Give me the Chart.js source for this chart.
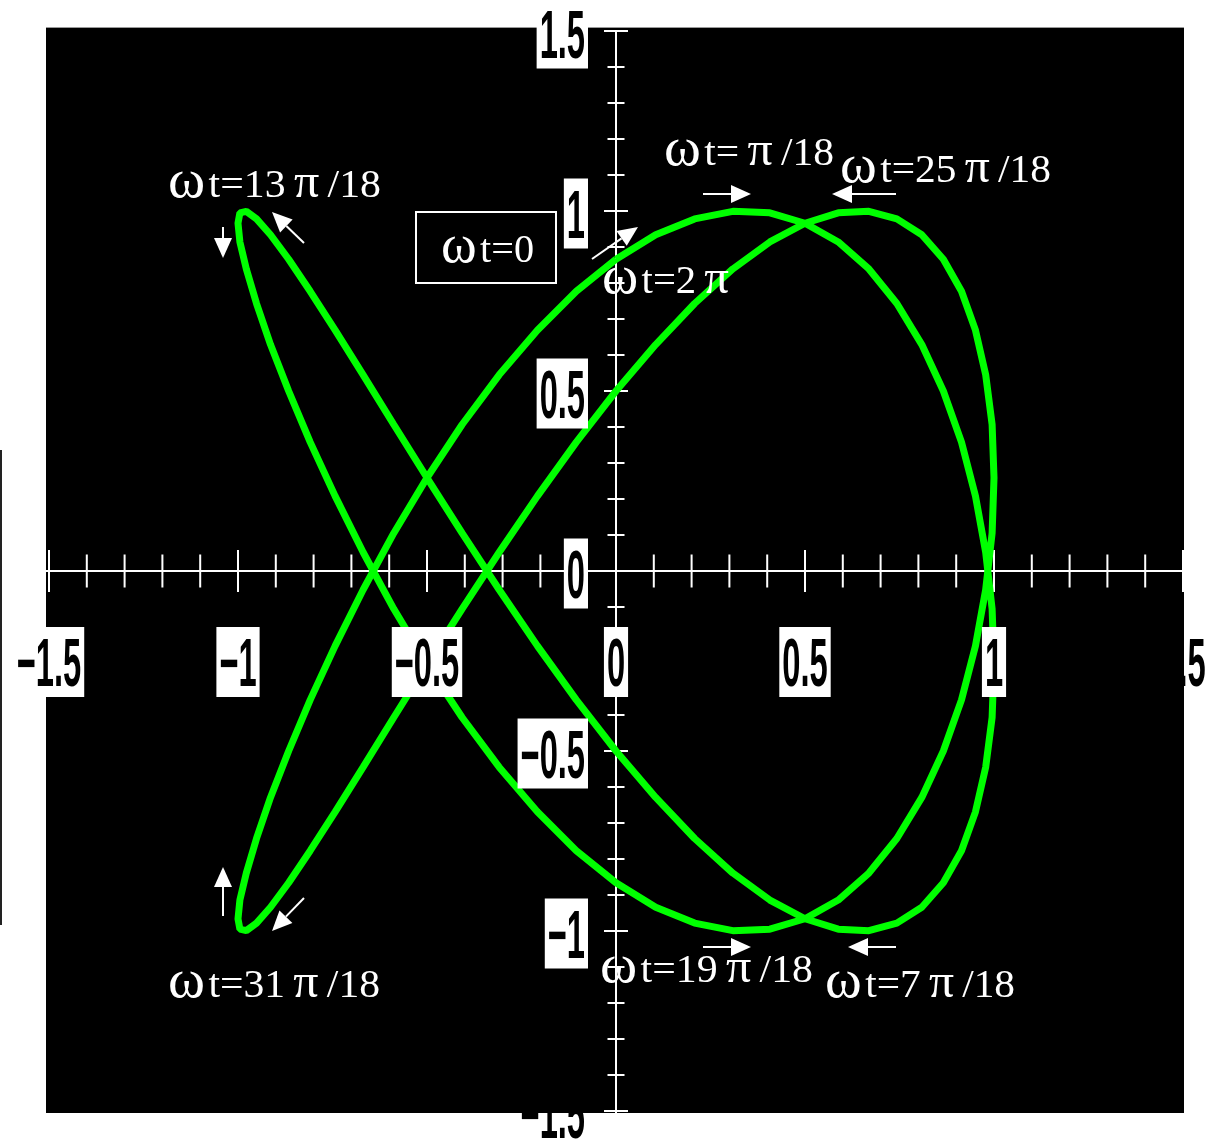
<!DOCTYPE html>
<html>
<head>
<meta charset="utf-8">
<script src="https://cdn.jsdelivr.net/npm/chart.js@4.4.1/dist/chart.umd.min.js"></script>
<style>
  html, body { margin: 0; padding: 0; background: #fff; overflow: hidden; }
  canvas { display: block; }
</style>
</head>
<body>
<canvas id="c" width="1221" height="1143"></canvas>
<script>
// Lissajous trace, one point every 3° of ωt from 0 to 2π
const curveX = [
  0, 0.105, 0.208, 0.309, 0.407, 0.5, 0.588, 0.669, 0.743, 0.809,
  0.866, 0.914, 0.951, 0.978, 0.995, 1, 0.995, 0.978, 0.951, 0.914,
  0.866, 0.809, 0.743, 0.669, 0.588, 0.5, 0.407, 0.309, 0.208, 0.105,
  0, -0.105, -0.208, -0.309, -0.407, -0.5, -0.588, -0.669, -0.743, -0.809,
  -0.866, -0.914, -0.951, -0.978, -0.995, -1, -0.995, -0.978, -0.951, -0.914,
  -0.866, -0.809, -0.743, -0.669, -0.588, -0.5, -0.407, -0.309, -0.208, -0.105,
  0, 0.105, 0.208, 0.309, 0.407, 0.5, 0.588, 0.669, 0.743, 0.809,
  0.866, 0.914, 0.951, 0.978, 0.995, 1, 0.995, 0.978, 0.951, 0.914,
  0.866, 0.809, 0.743, 0.669, 0.588, 0.5, 0.407, 0.309, 0.208, 0.105,
  0, -0.105, -0.208, -0.309, -0.407, -0.5, -0.588, -0.669, -0.743, -0.809,
  -0.866, -0.914, -0.951, -0.978, -0.995, -1, -0.995, -0.978, -0.951, -0.914,
  -0.866, -0.809, -0.743, -0.669, -0.588, -0.5, -0.407, -0.309, -0.208, -0.105,
  0
];
const curveY = [
  0.866, 0.934, 0.978, 0.999, 0.995, 0.966, 0.914, 0.839, 0.743, 0.629,
  0.5, 0.358, 0.208, 0.052, -0.105, -0.259, -0.407, -0.545, -0.669, -0.777,
  -0.866, -0.934, -0.978, -0.999, -0.995, -0.966, -0.914, -0.839, -0.743, -0.629,
  -0.5, -0.358, -0.208, -0.052, 0.105, 0.259, 0.407, 0.545, 0.669, 0.777,
  0.866, 0.934, 0.978, 0.999, 0.995, 0.966, 0.914, 0.839, 0.743, 0.629,
  0.5, 0.358, 0.208, 0.052, -0.105, -0.259, -0.407, -0.545, -0.669, -0.777,
  -0.866, -0.934, -0.978, -0.999, -0.995, -0.966, -0.914, -0.839, -0.743, -0.629,
  -0.5, -0.358, -0.208, -0.052, 0.105, 0.259, 0.407, 0.545, 0.669, 0.777,
  0.866, 0.934, 0.978, 0.999, 0.995, 0.966, 0.914, 0.839, 0.743, 0.629,
  0.5, 0.358, 0.208, 0.052, -0.105, -0.259, -0.407, -0.545, -0.669, -0.777,
  -0.866, -0.934, -0.978, -0.999, -0.995, -0.966, -0.914, -0.839, -0.743, -0.629,
  -0.5, -0.358, -0.208, -0.052, 0.105, 0.259, 0.407, 0.545, 0.669, 0.777,
  0.866
];

// Axis tick labels
const xTickValues = [-1.5, -1, -0.5, 0, 0.5, 1, 1.5];
const xTickLabels = ['\u22121.5', '\u22121', '\u22120.5', '0', '0.5', '1', '1.5'];
const yTickValues = [1.5, 1, 0.5, 0, -0.5, -1, -1.5];
const yTickLabels = ['1.5', '1', '0.5', '0', '\u22120.5', '\u22121', '\u22121.5'];

// Phase markers along the trace
const phaseLabels = [
  '\u03c9\u200at=13\u2009\u03c0\u2009/18',
  '\u03c9\u200at=0',
  '\u03c9\u200at=\u2009\u03c0\u2009/18',
  '\u03c9\u200at=25\u2009\u03c0\u2009/18',
  '\u03c9\u200at=2\u2009\u03c0',
  '\u03c9\u200at=31\u2009\u03c0\u2009/18',
  '\u03c9\u200at=19\u2009\u03c0\u2009/18',
  '\u03c9\u200at=7\u2009\u03c0\u2009/18'
];

// Placement of the phase texts: left edge, baseline, drawn width (px)
const phaseLayout = [
  { left: 168, base: 197, width: 213 },
  { left: 441, base: 262, width: 93 },
  { left: 664, base: 165, width: 170 },
  { left: 840, base: 182, width: 211 },
  { left: 602, base: 293, width: 127 },
  { left: 168, base: 997, width: 212 },
  { left: 600, base: 982, width: 213 },
  { left: 825, base: 997, width: 190 }
];
// Direction arrows (from -> to, px)
const arrowLayout = [
  [223, 227, 223, 258],
  [304, 243, 272, 212],
  [703, 194, 751, 194],
  [896, 194, 832, 194],
  [592, 259, 638, 227],
  [223, 916, 223, 867],
  [304, 898, 272, 931],
  [703, 947, 751, 947],
  [896, 947, 848, 947]
];

const PANEL = { l: 46, t: 28, r: 1184, b: 1113 };
const LABEL_FONT = 'bold 68px "Liberation Sans", Arial, sans-serif';
const LABEL_SX = 0.48;
const SERIF = '"Liberation Serif", "Times New Roman", serif';

function tickLabel(ctx, text, anchorX, cy, alignRight) {
  ctx.save();
  ctx.font = LABEL_FONT;
  const w = ctx.measureText(text).width * LABEL_SX;
  const bw = w + 6;
  const cx = alignRight ? anchorX - bw / 2 : anchorX;
  ctx.fillStyle = '#fff';
  ctx.fillRect(cx - bw / 2, cy - 35, bw, 70);
  ctx.fillStyle = '#000';
  ctx.translate(cx, cy + 24);
  ctx.scale(LABEL_SX, 1);
  ctx.textAlign = 'center';
  ctx.textBaseline = 'alphabetic';
  ctx.fillText(text, 0, 0);
  ctx.restore();
}

function arrow(ctx, x0, y0, x1, y1) {
  const a = Math.atan2(y1 - y0, x1 - x0);
  const L = 20, hw = 9;
  const bx = x1 - L * Math.cos(a), by = y1 - L * Math.sin(a);
  ctx.save();
  ctx.strokeStyle = '#fff';
  ctx.fillStyle = '#fff';
  ctx.lineWidth = 2;
  ctx.beginPath();
  ctx.moveTo(x0, y0);
  ctx.lineTo(bx, by);
  ctx.stroke();
  ctx.beginPath();
  ctx.moveTo(x1, y1);
  ctx.lineTo(bx - hw * Math.sin(a), by + hw * Math.cos(a));
  ctx.lineTo(bx + hw * Math.sin(a), by - hw * Math.cos(a));
  ctx.closePath();
  ctx.fill();
  ctx.restore();
}

// Greek letters are set larger than the rest, like a symbol font
function phaseText(ctx, text, lay) {
  const runs = [];
  for (const ch of text) {
    const greek = ch === '\u03c9' || ch === '\u03c0';
    const size = ch === '\u03c9' ? 54 : (greek ? 48 : 40);
    runs.push({ ch: ch, font: size + 'px ' + SERIF });
  }
  ctx.save();
  let total = 0;
  runs.forEach(r => { ctx.font = r.font; r.w = ctx.measureText(r.ch).width; total += r.w; });
  ctx.translate(lay.left, lay.base);
  ctx.scale(lay.width / total, 1);
  ctx.fillStyle = '#fff';
  ctx.textAlign = 'left';
  ctx.textBaseline = 'alphabetic';
  let x = 0;
  runs.forEach(r => { ctx.font = r.font; ctx.fillText(r.ch, x, 0); x += r.w; });
  ctx.restore();
}

const scopePlugin = {
  id: 'scope',
  beforeDraw(chart) {
    const ctx = chart.ctx;
    const xs = chart.scales.x, ys = chart.scales.y;
    const x0 = xs.getPixelForValue(0);
    ctx.save();
    ctx.fillStyle = '#fff';
    ctx.fillRect(0, 0, chart.width, chart.height);
    // thin frame mark on the far left
    ctx.fillStyle = '#222';
    ctx.fillRect(0, 450, 2, 475);
    // labels that sit partly behind the panel
    tickLabel(ctx, xTickLabels[6], xs.getPixelForValue(xTickValues[6]), 662, false);
    tickLabel(ctx, yTickLabels[6], x0 - 28, ys.getPixelForValue(yTickValues[6]) + 2.5, true);
    // black panel
    ctx.fillStyle = '#000';
    ctx.fillRect(PANEL.l, PANEL.t, PANEL.r - PANEL.l, PANEL.b - PANEL.t);
    ctx.fillStyle = '#9a9a9a';
    ctx.fillRect(PANEL.l, PANEL.t - 1, PANEL.r - PANEL.l, 1);
    ctx.restore();
  },
  beforeDatasetsDraw(chart) {
    const ctx = chart.ctx;
    const xs = chart.scales.x, ys = chart.scales.y;
    const x0 = xs.getPixelForValue(0), y0 = ys.getPixelForValue(0);
    ctx.save();
    ctx.strokeStyle = '#fff';
    ctx.lineWidth = 2;
    ctx.beginPath();
    ctx.moveTo(PANEL.l, y0); ctx.lineTo(PANEL.r, y0);
    ctx.moveTo(x0, ys.getPixelForValue(1.5)); ctx.lineTo(x0, PANEL.b);
    for (let i = -15; i <= 15; i++) {
      if (i === 0) continue;
      const v = i / 10;
      const major = i % 5 === 0;
      const px = xs.getPixelForValue(v);
      const hx = major ? 21 : 16.5;
      ctx.moveTo(px, y0 - hx); ctx.lineTo(px, y0 + hx);
      const py = ys.getPixelForValue(v);
      const hy = major ? 12 : 8.5;
      ctx.moveTo(x0 - hy, py); ctx.lineTo(x0 + hy, py);
    }
    ctx.stroke();
    ctx.restore();
  },
  afterDatasetsDraw(chart) {
    const ctx = chart.ctx;
    const xs = chart.scales.x, ys = chart.scales.y;
    const x0 = xs.getPixelForValue(0);
    for (let i = 0; i < 6; i++) {
      tickLabel(ctx, xTickLabels[i], xs.getPixelForValue(xTickValues[i]), 662, false);
      tickLabel(ctx, yTickLabels[i], x0 - 28, ys.getPixelForValue(yTickValues[i]) + 2.5, true);
    }
    // boxed start marker
    ctx.save();
    ctx.strokeStyle = '#fff';
    ctx.lineWidth = 2;
    ctx.strokeRect(416, 212, 140, 71);
    ctx.restore();
    phaseLabels.forEach((t, i) => phaseText(ctx, t, phaseLayout[i]));
    arrowLayout.forEach(a => arrow(ctx, a[0], a[1], a[2], a[3]));
  }
};

const points = curveX.map((x, i) => ({ x: x, y: curveY[i] }));

new Chart(document.getElementById('c').getContext('2d'), {
  type: 'scatter',
  data: {
    datasets: [{
      data: points,
      showLine: true,
      borderColor: '#00ff00',
      borderWidth: 7,
      borderJoinStyle: 'bevel',
      pointRadius: 0,
      pointHoverRadius: 0,
      fill: false,
      tension: 0
    }]
  },
  options: {
    responsive: false,
    animation: false,
    devicePixelRatio: 1,
    events: [],
    layout: { padding: { left: 49, right: 38, top: 31, bottom: 32 } },
    scales: {
      x: { type: 'linear', min: -1.5, max: 1.5, display: false },
      y: { type: 'linear', min: -1.5, max: 1.5, display: false }
    },
    plugins: { legend: { display: false }, tooltip: { enabled: false } }
  },
  plugins: [scopePlugin]
});
</script>
</body>
</html>
